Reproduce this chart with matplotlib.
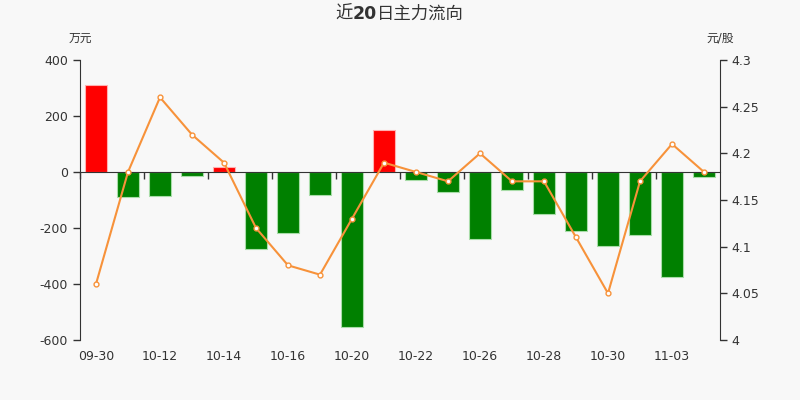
import matplotlib
matplotlib.use('Agg')
import matplotlib.pyplot as plt
import matplotlib.transforms as mtransforms
import numpy as np

plt.rcParams['font.family'] = ['DejaVu Sans', 'Noto Sans CJK SC']
plt.rcParams['axes.unicode_minus'] = False

# 日期
dates = ['09-30', '10-09', '10-12', '10-13', '10-14', '10-15', '10-16', '10-19', '10-20', '10-21',
         '10-22', '10-23', '10-26', '10-27', '10-28', '10-29', '10-30', '11-02', '11-03', '11-04']
# 主力净流入 (万元)
flow = [310, -89, -86, -14, 18, -275, -218, -82, -553, 150,
        -29, -71, -239, -64, -150, -211, -264, -225, -375, -18]
# 收盘价 (元/股)
price = [4.06, 4.18, 4.26, 4.22, 4.19, 4.12, 4.08, 4.07, 4.13, 4.19,
         4.18, 4.17, 4.20, 4.17, 4.17, 4.11, 4.05, 4.17, 4.21, 4.18]

bg = '#f8f8f8'
txt = '#333333'
fig = plt.figure(figsize=(8, 4), dpi=100, facecolor=bg)
ax = fig.add_axes([0.1, 0.15, 0.8, 0.7])
ax.set_facecolor(bg)

x = np.arange(len(dates))
cols = ['#ff0000' if v >= 0 else '#008000' for v in flow]
edges = ['#ffb0b0' if v >= 0 else '#a8dca8' for v in flow]
ax.bar(x, flow, width=0.7, color=cols, edgecolor=edges, linewidth=0.8, zorder=2)

ax.set_xlim(-0.5, len(dates) - 0.5)
ax.set_ylim(-600, 400)
ax.set_yticks(np.arange(-600, 401, 200))
ax.tick_params(axis='y', colors=txt, labelsize=9, length=5, width=1)

ax.spines['bottom'].set_position(('data', 0))
ax.spines['bottom'].set_color('#333333')
ax.spines['bottom'].set_zorder(3)
ax.spines['top'].set_visible(False)
ax.spines['right'].set_visible(False)
ax.spines['left'].set_color('#333333')
ax.set_xticks(np.arange(-0.5, len(dates) - 0.5, 2))
ax.set_xticklabels([])
ax.tick_params(axis='x', length=5, width=1, colors=txt, direction='out')

trans = mtransforms.blended_transform_factory(ax.transData, ax.transAxes)
for i in range(0, len(dates), 2):
    ax.text(i, -0.035, dates[i], transform=trans, ha='center', va='top', fontsize=9, color=txt)

ax2 = ax.twinx()
ax2.plot(x, price, color='#f7923a', linewidth=1.5, marker='o', markersize=3.5,
         markerfacecolor='white', markeredgecolor='#f7923a', markeredgewidth=1, zorder=4)
ax2.set_ylim(4.0, 4.3)
ticks = [4.0, 4.05, 4.1, 4.15, 4.2, 4.25, 4.3]
ax2.set_yticks(ticks)
ax2.set_yticklabels(['4', '4.05', '4.1', '4.15', '4.2', '4.25', '4.3'])
ax2.tick_params(axis='y', colors=txt, labelsize=9, length=5, width=1)
for s in ['top', 'left', 'bottom']:
    ax2.spines[s].set_visible(False)
ax2.spines['right'].set_color('#333333')

# 标题: "20" 加粗, 分段拼接
parts = [('近', 'normal'), ('20', 'bold'), ('日主力流向', 'normal')]
objs = [fig.text(0, 0.965, s, ha='left', va='center', fontsize=12.5, fontweight=w, color=txt)
        for s, w in parts]
fig.canvas.draw()
r = fig.canvas.get_renderer()
widths = [o.get_window_extent(r).width / fig.bbox.width for o in objs]
x0 = 0.5 - sum(widths) / 2
for o, w in zip(objs, widths):
    o.set_x(x0)
    x0 += w

fig.text(0.1, 0.905, '万元', ha='center', va='center', fontsize=8.5, color=txt)
fig.text(0.9, 0.905, '元/股', ha='center', va='center', fontsize=8.5, color=txt)

fig.savefig('out.png', dpi=100, facecolor=bg)
